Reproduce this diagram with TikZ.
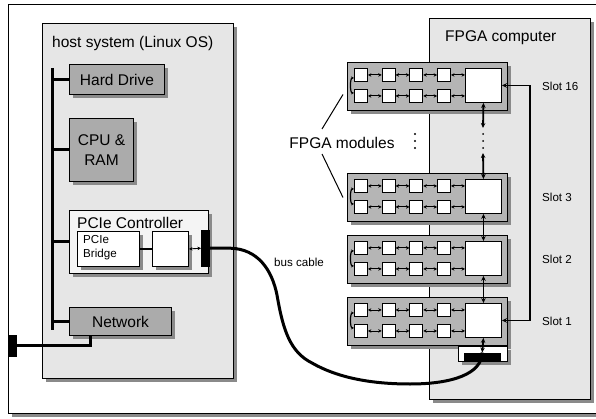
\documentclass[tikz,border=0pt]{standalone}
\usepackage{fontspec}
\setmainfont{Liberation Sans}
\usetikzlibrary{shadows,arrows.meta,calc}
\definecolor{bglight}{HTML}{E6E6E6}
\definecolor{midgray}{HTML}{ABABAB}
\definecolor{modgray}{HTML}{B5B5B5}
\definecolor{shgray}{HTML}{8A8A8A}
\definecolor{pciefill}{HTML}{F4F4F4}
\newcommand\bigfont{\fontsize{15.5}{19.5}\selectfont}
\newcommand\smallfont{\fontsize{11.6}{14}\selectfont}
\tikzset{
  sh/.style={drop shadow={shadow xshift=3.5pt,shadow yshift=-3.5pt,fill=shgray,opacity=1}},
  box/.style={draw=black,line width=1pt,anchor=north west,inner sep=0pt,sh},
  graybox/.style={box,fill=midgray,font=\bigfont,align=center},
  sq/.style={draw=black,line width=0.9pt,fill=white,anchor=north west,inner sep=0pt,minimum size=13pt},
  bigsq/.style={draw=black,line width=0.9pt,fill=white,anchor=north west,inner sep=0pt,minimum width=36pt,minimum height=34pt},
  modbox/.style={box,fill=modgray,minimum width=160pt,minimum height=48pt},
  darr/.style={line width=0.9pt,{Stealth[length=3.5pt,width=3.5pt]}-{Stealth[length=3.5pt,width=3.5pt]}},
  varr/.style={line width=1.8pt,{Stealth[length=5pt,width=4.5pt]}-{Stealth[length=5pt,width=4.5pt]}},
  thickline/.style={line width=3pt},
  plug/.style={fill=black,draw=black,anchor=north west,inner sep=0pt},
  lbl/.style={font=\smallfont,anchor=west,inner sep=0pt},
  blbl/.style={font=\bigfont,anchor=west,inner sep=0pt},
}
\newcommand\fpgamod[2]{%
  \node[modbox] (#1) at (347,#2) {};
  \foreach \i in {1,...,4} {
    \node[sq] (#1a\i) at ({354+27.7*(\i-1)},{#2+6}) {};
    \node[sq] (#1b\i) at ({354+27.7*(\i-1)},{#2+27}) {};
  }
  \node[bigsq] (#1big) at (465,{#2+6}) {};
  \foreach \i/\j in {1/2,2/3,3/4} {
    \draw[darr] (#1a\i.east) -- (#1a\j.west);
    \draw[darr] (#1b\i.east) -- (#1b\j.west);
  }
  \draw[darr] (#1a4.east) -- (#1a4.east -| #1big.west);
  \draw[darr] (#1b4.east) -- (#1b4.east -| #1big.west);
  \draw[line width=1.2pt,{Stealth[length=3pt,width=3pt]}-{Stealth[length=3pt,width=3pt]}] ([yshift=-3pt]#1a1.west) to[out=180,in=180,looseness=0.7] ([yshift=3pt]#1b1.west);
}
\begin{document}
\begin{tikzpicture}[x=1pt,y=-1pt]
\clip (0,0) rectangle (596,419);
% outer frame
\draw[line width=1pt,fill=white,sh] (8,5) rectangle (620,413);
% host system
\node[box,fill=bglight,minimum width=191pt,minimum height=355pt] (host) at (42,23) {};
\node[blbl] (hosttxt) at (52,43) {host system (Linux OS)};
% FPGA computer
\node[box,fill=bglight,minimum width=161pt,minimum height=381pt] (fcomp) at (429,18) {};
\node[blbl] (fctxt) at (445,38) {FPGA computer};
% host components
\coordinate (busT) at (52,68);
\coordinate (busB) at (52,330);
\node[graybox,minimum width=95pt,minimum height=30pt] (hd) at (69,64) {Hard Drive};
\node[graybox,minimum width=64pt,minimum height=63pt] (cpu) at (69,118) {CPU \&\\RAM};
\node[box,fill=pciefill,minimum width=139pt,minimum height=63pt] (pcie) at (69,210) {};
\node[blbl] (pcietxt) at (77,223) {PCIe Controller};
\node[box,fill=white,minimum width=62pt,minimum height=35pt,sh/.style={}] (bridge) at (77,231) {};
\node[font=\smallfont,align=left,anchor=north west,inner sep=0pt] (bridgetxt) at (83,235) {PCIe\\Bridge};
\node[box,fill=white,minimum width=36pt,minimum height=35pt,sh/.style={}] (pbox) at (152,231) {};
\node[plug,minimum width=8pt,minimum height=36pt] (pplug) at (201,230) {};
\node[graybox,minimum width=102pt,minimum height=28pt] (net) at (69,307) {Network};
\node[plug,minimum width=8pt,minimum height=21pt] (netplug) at (8,335) {};
% bus
\draw[thickline] (busT) -- (busB);
\foreach \n in {hd,cpu,pcie,net} { \draw[thickline] (\n.west) -- (\n.west -| busT); }
\draw[line width=2pt] (bridge.east) -- (pbox.west);
\draw[darr] (pbox.east) -- (pplug.west);
\draw[thickline] ($(net.south west)+(21,0)$) |- (netplug.east);
% FPGA modules
\fpgamod{ms}{62}
\fpgamod{mc}{173}
\fpgamod{mb}{235}
\fpgamod{ma}{297}
% slot connector
\node[box,fill=white,minimum width=49pt,minimum height=15pt] (sock) at (458,346) {};
\node[plug,minimum width=36pt,minimum height=8pt] (sockbar) at (464,352.5) {};
% vertical links
\coordinate (d1) at (483,128);
\coordinate (d2) at (483,153);
\draw[varr] (msbig.south) -- (d1);
\draw[varr] (d2) -- (mcbig.north);
\foreach \yy in {134,141,148} { \fill (483,\yy) circle (1pt); }
\draw[varr] (mcbig.south) -- (mbbig.north);
\draw[varr] (mbbig.south) -- (mabig.north);
\draw[varr] (mabig.south) -- (sockbar.north);
\draw[line width=1.6pt,{Stealth[length=5pt,width=4.5pt]}-{Stealth[length=5pt,width=4.5pt]}] (msbig.east) -- ++(28,0) |- (mabig.east);
% slot labels
\node[lbl] (s16) at (542,86) {Slot 16};
\node[lbl] (s3) at (542,197) {Slot 3};
\node[lbl] (s2) at (542,259) {Slot 2};
\node[lbl] (s1) at (542,321) {Slot 1};
% FPGA modules label
\node[font=\bigfont,inner sep=0pt] (fmtxt) at (342,143) {FPGA modules};
\coordinate (fl1) at (322,129);
\coordinate (fl2) at (322,154);
\draw[line width=1pt] (fl1) -- ($(ms.west)+(-4,8)$);
\draw[line width=1pt] (fl2) -- ($(mc.west)+(-4,0)$);
\foreach \yy in {134,141,148} { \fill (415,\yy) circle (1.1pt); }
% bus cable
\draw[thickline] (pplug.east) -- ++(21,0) .. controls (258,249) and (272,270) .. (277,295)
  .. controls (283,330) and (290,352) .. (312,363)
  .. controls (338,378) and (372,384) .. (410,384)
  .. controls (452,384) and (482,374) .. (sockbar.north);
\node[lbl] (bustxt) at (274,262) {bus cable};
\end{tikzpicture}
\end{document}
